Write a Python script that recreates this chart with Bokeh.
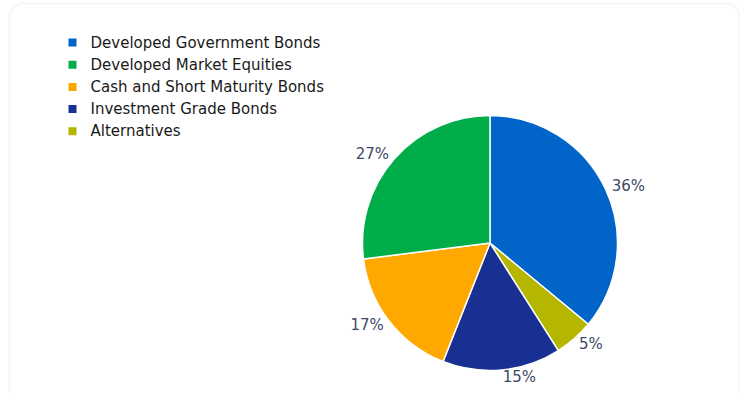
import math
from bokeh.plotting import figure
from bokeh.models import Range1d, BoxAnnotation, ColumnDataSource
from bokeh.core.properties import value
from bokeh.embed import file_html
from bokeh.resources import INLINE

# data
categories = ["Developed Government Bonds", "Developed Market Equities",
              "Cash and Short Maturity Bonds", "Investment Grade Bonds", "Alternatives"]
colors = ["#0064c8", "#00ad48", "#ffa800", "#173092", "#b4b600"]
# clockwise order of slices from 12 o'clock
pie_order = ["Developed Government Bonds", "Alternatives", "Investment Grade Bonds",
             "Cash and Short Maturity Bonds", "Developed Market Equities"]
pie_values = [36, 5, 15, 17, 27]

W, H = 740, 393


def sx(x):
    return x


def sy(y):
    return H - y


p = figure(width=W, height=H, output_backend="svg", toolbar_location=None,
           x_range=Range1d(0, W), y_range=Range1d(0, H), min_border=0)
p.axis.visible = False
p.grid.visible = False
p.outline_line_color = None
p.background_fill_color = "white"
p.border_fill_color = "white"

# rounded container border
p.add_layout(BoxAnnotation(left=sx(9), right=W - 1, top=sy(3), bottom=-30,
                           fill_alpha=0, line_color="#dde2eb", line_width=2,
                           border_radius=14, level="underlay"))

cx, cy, R = sx(489.5), sy(242.5), 127.5
total = sum(pie_values)
starts, ends, lx, ly, lt, la = [], [], [], [], [], []
cum = 0.0
cmap = dict(zip(categories, colors))
for name, v in zip(pie_order, pie_values):
    a0 = cum / total * 360
    cum += v
    a1 = cum / total * 360
    starts.append(math.radians(90 - a1))
    ends.append(math.radians(90 - a0))
    mid = math.radians((a0 + a1) / 2)
    d = R + 7
    lx.append(cx + d * math.sin(mid))
    ly.append(cy + d * math.cos(mid))
    lt.append(f"{v}%")
    la.append("left" if math.sin(mid) >= 0 else "right")

src = ColumnDataSource(dict(start=starts, end=ends,
                            color=[cmap[n] for n in pie_order]))
p.wedge(x=cx, y=cy, radius=R, start_angle="start", end_angle="end",
        fill_color="color", line_color="white", line_width=1.5, source=src)

lsrc = ColumnDataSource(dict(x=lx, y=ly, t=lt, a=la))
p.text(x="x", y="y", text="t", text_align="a", text_baseline="middle",
       text_font=value("DejaVu Sans"), text_font_size="15px",
       text_color="#3c4a67", source=lsrc)

# legend
rows_y = [sy(42 + 22.2 * i) for i in range(len(categories))]
p.scatter(x=[sx(72)] * len(categories), y=rows_y, marker="square", size=8,
          fill_color=colors, line_color=None)
p.text(x=[sx(90)] * len(categories), y=rows_y, text=categories,
       text_baseline="middle", text_align="left",
       text_font=value("DejaVu Sans"), text_font_size="15px",
       text_color="#1a1a1a")

open("out.html", "w").write(file_html(p, INLINE))
